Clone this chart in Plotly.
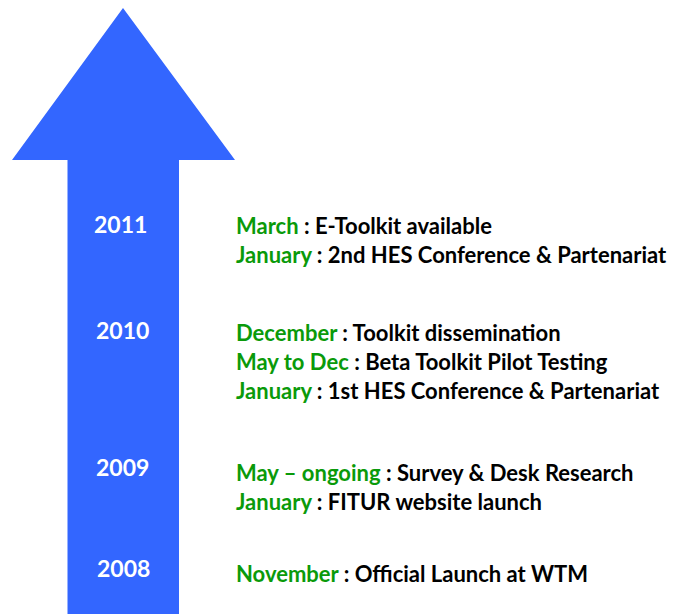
import plotly.graph_objects as go

# ---- data ----
years = ["2011", "2010", "2009", "2008"]
months = [
    ["March", "January"],
    ["December", "May to Dec", "January"],
    ["May \u2013 ongoing", "January"],
    ["November"],
]
descriptions = [
    ["E-Toolkit available", "2nd HES Conference & Partenariat"],
    ["Toolkit dissemination", "Beta Toolkit Pilot Testing", "1st HES Conference & Partenariat"],
    ["Survey & Desk Research", "FITUR website launch"],
    ["Official Launch at WTM"],
]

# ---- layout (pixel-space positions) ----
W, H = 689, 614
OFF = 8  # page body offset compensation
year_y = [224, 330, 467, 568]
year_x = [120, 122, 122, 123]
event_y0 = [225, 332, 472, 573]
line_gap = 29
event_x = 234

blue = "#3366FF"
green = "#0A9A0A"
font_family = "Lato"

fig = go.Figure()

arrow_path = "M 67.5 640 L 67.5 160 L 12 160 L 123 8 L 235 160 L 179 160 L 179 640 Z"
fig.add_shape(type="path", path=arrow_path, xref="x", yref="y",
              fillcolor=blue, line=dict(width=0), layer="below")

for i, yr in enumerate(years):
    fig.add_annotation(x=year_x[i], y=year_y[i], text=f"<b>{yr}</b>", showarrow=False,
                       xref="x", yref="y", xanchor="center", yanchor="middle",
                       font=dict(family=font_family, size=23, color="white"))
    for j, (m, d) in enumerate(zip(months[i], descriptions[i])):
        fig.add_annotation(
            x=event_x, y=event_y0[i] + j * line_gap,
            text=f"<b><span style='color:{green}'>{m}</span> : {d}</b>",
            showarrow=False, xref="x", yref="y", xanchor="left", yanchor="middle",
            font=dict(family=font_family, size=22, color="black"))

fig.update_xaxes(range=[OFF, W + OFF], visible=False, fixedrange=True)
fig.update_yaxes(range=[H + OFF, OFF], visible=False, fixedrange=True)
fig.update_layout(width=W, height=H, margin=dict(l=0, r=0, t=0, b=0),
                  paper_bgcolor="white", plot_bgcolor="white", showlegend=False)

fig.write_html("out.html")
